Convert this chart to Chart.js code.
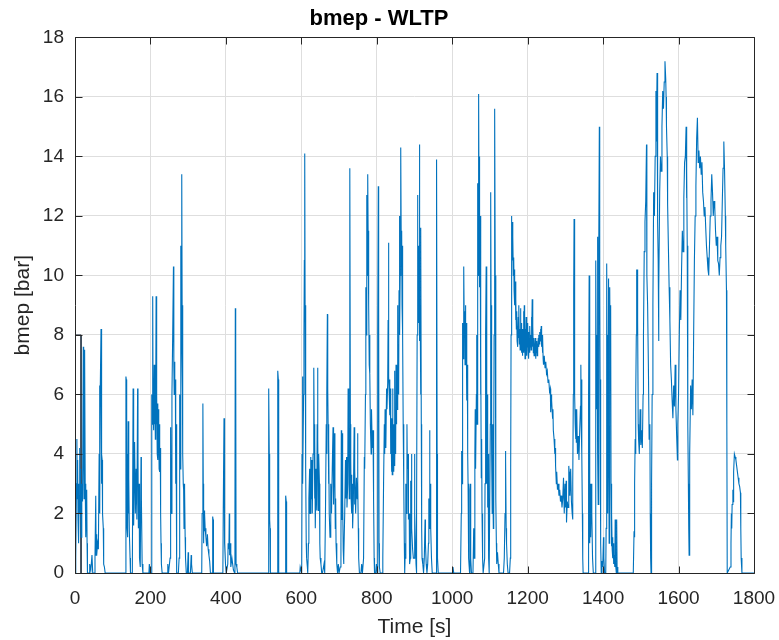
<!DOCTYPE html>
<html>
<head>
<meta charset="utf-8">
<title>bmep - WLTP</title>
<script src="https://cdn.jsdelivr.net/npm/chart.js@4.4.1/dist/chart.umd.min.js"></script>
<style>
  html, body { margin: 0; padding: 0; background: #fff; }
  #wrap { width: 779px; height: 640px; }
</style>
</head>
<body>
<div id="wrap"><canvas id="bmep-chart" width="779" height="640"></canvas></div>
<script>
// time [s] and bmep [bar], segment by segment
const timeS = [
  0,2,4,5,6,7,8,9,10,11, 12,13,14,15,16,18,20,22,23,24, 25,26,27,28,29,31,32,33,
  38,39,42,45,47,52,53,55,56,57, 58,60,62,64,65,66,67,69,70,71, 72,73,75,76,78,80,
  134,135,136,137,138,139,140,141,142,143, 144,146,147,152,154,155,156,158,160,162, 164,166,167,168,170,171,173,175,176,178, 180,
  196,197,199,202,203,204,205,206,207,208, 209,210,211,212,213,214,215,216,217,218, 219,220,221,222,223,224,225,226,227,228, 229,231,
  244,246,248,252,253,254,255,257,259,261, 262,263,264,265,266,267,268,269,270,274, 276,277,278,279,280,281,282,283,284,285, 286,287,288,289,290,291,292,293,295,298, 300,301,306,308,309,311,
  336,337,339,340,341,342,343,344,345,347, 349,351,353,355,357,359,364,365,366,367, 392,393,395,396,397,399,401,405,406,408, 409,410,412,413,416,418,420,423,424,425, 426,427,429,431,
  512,513,514,515,516,517,518,536,537,538, 539,540,557,558,559,560,561,596,597,599, 601,602,603,604,606,607,608,609,610,611, 612,613,614,616,
  617,619,620,622,623,625,626,628,629,631, 633,634,635,636,637,639,641,642,643,644, 645,646,648,649,650,652,654,656,660,662, 664,666,667,668,669,670,671,672,673,674,
  676,678,680,682,684,685,686,688,689,690, 691,692,694,696,698,700,703,705,706,707, 708,709,710,711,712,713,715,717,718,720, 721,723,724,725,726,727,728,729,730,731, 732,733,734,735,736,738,740,741,742,744, 746,748,749,750,751,752,754,
  758,760,762,765,767,768,770,771,772,773, 774,775,776,777,778,779,780,781,782,783, 785,786,788,790,791,792,793,794,797,799, 801,802,803,804,805,806,807,809,
  814,816,818,820,821,822,824,826,827,829, 830,831,832,833,834,835,836,837,838,839, 840,841,842,843,844,845,846,847,848,849, 850,851,852,853,854,855,856,857,858,859, 860,861,862,863,864,865,866,867,868,869, 870,871,872,873,874,
  875,877,878,880,881,883,884,886,887,889, 890,891,892,893,895,897,899,900,901,903, 904,905,906,907,908,909,910,911,912,913, 914,915,916,917,918,919,920,922,924,926, 928,929,931,933,935,937,938,939,940,941, 942,943,945,947,957,958,959,960,961,963,
  1000,1002,1004,1022,1024,1025,1026,1027,1028,1029, 1030,1031,1032,1033,1034,1035,1036,1037,1038,1039, 1040,1041,1042,1043,1044,1046,1047,1048,1049,1051,
  1055,1057,1058,1060,1061,1062,1064,1065,1066,1067, 1068,1069,1070,1071,1072,1073,1074,1075,1076,1077, 1078,1079,1080,1081,1082,1084,1086,1087,1088,1089, 1090,1091,1092,1093,1094,1095,1096,1097,1098,1100, 1101,1102,1103,1104,1105,1106,1107,1108,1109,1110, 1111,1112,1113,1114,1115,1116,1117,1118,1120,1122, 1124,1136,1138,1140,1141,1142,1143,1144,1146,1148,
  1152,1154,
  1155,1156,1157,1158,1159,1160,1161,1162,1163,1164,
  1165,1166,1167,1168,1169,1170,1171,1172,1173,1174,
  1175,1176,1177,1178,1179,1180,1181,1182,1183,1184,
  1185,1186,1187,1188,1189,1190,1191,1192,1193,1194,
  1195,1196,1197,1198,1199,1200,1201,1202,1203,1204,
  1205,1206,1207,1208,1209,1210,1211,1212,1213,1214,
  1215,1216,1217,1218,1219,1220,1221,1222,1223,1224,
  1225,1226,1227,1228,1229,1230,1231,1232,1233,1234,
  1235,1236,1237,1238,1239,1240,1241,1242,
  1244,1246,1248,1250,1252,1254,1256,1258,1260,1261, 1262,1263,1264,1266,1267,1268,1270,1272,1273,1274, 1276,1277,1279,1281,1283,1285,1287,1289,1291,1293, 1295,1297,1299,1300,1302,1303,1305,1307,1309,1310, 1312,1314,1316,1318,1319,1320,1321,1322,1323,1324, 1325,1326,1327,1328,1329,1330,1332,1334,1336,1338, 1340,1341,1342,1343,1344,1345,1346,1347,
  1360,1361,1362,1363,1364,1365,1366,1367,1369,1370, 1372,1374,1379,1380,1381,1382,1383,1384,1385,1386, 1387,1388,1389,1390,1391,1392,1393,1394,1395,1397, 1399,1401,1402,1404,1407,1408,1409,1410,1411,1412, 1413,1414,1415,1416,1417,1418,1419,1420,1421,1422, 1423,1424,1425,1426,1427,1428,1429,1431,1432,1433, 1435,1436,1437,1439,
  1480,1482,1483,1484,1485,1486,1487,1488,1489,1490, 1491,1492,1493,1494,1496,1498,1500,1502,1504,1506, 1507,1509,1511,1513,1515,1516,1518,1520,1522,1524, 1525,1526,1527,1528,1529,1530,1532,1534,1536,1538, 1540,1541,1543,1544,1545,1546,1547,1548,1550,1552, 1554,1556,1558,1560,1562,1564,1566,1567,1568,1570, 1571,
  1573,1575,1577,1579,1581,1583,1585,1587,1589,1591, 1593,1595,1597,1598,1600,1602,1604,1606,1608,1610, 1612,1614,1616,1618,1620,1621,1622,1623,1624,1625, 1626,1627,1628,1629,1630,1632,1634,1636,1638,1640, 1642,1644,1646,1648,1650,1652,1654,1656,1658,1660, 1662,1664,1666,1668,1670,1672,1674,1676,1678,1680, 1682,1684,1686,1688,1690,1692,1694,1696,1698,1700, 1702,1704,1706,1708,1710,1712,1714,1716,1718,1720, 1722,1724,1725,1727,1728,1729,
  1737,1739,1740,1741,1742,1744,1745,1746,1748,1750, 1752,1754,1756,1758,1760,1762,1764,1765,1766,1768, 1800
];

const bmepBar = [
  0,0.5,3.0,4.5,2.5,3.8,1.8,3.0,1.0,2.6, 4.2,2.0,3.5,2.7,1.2,3.0,2.4,7.6,4.0,2.5, 6.5,7.5,3.0,2.8,1.2,2.8,1.0,0,
  0,0.3,0.1,0.6,0,0,0.5,2.6,0.6,1.3, 0.6,1.0,0.8,4.0,6.3,2.0,6.2,8.2,3.0,4.0, 3.8,2.0,1.5,0.3,0.2,0,
  0,6.6,6.5,3.0,1.5,4.0,1.2,5.1,2.0,3.2, 1.4,0.5,0,0,6.2,3.0,1.6,4.4,2.0,3.5, 1.8,6.2,4.0,1.5,3.0,0.5,0.2,3.9,2.5,0.3, 0,
  0,0.3,0,0,2.0,6.0,5.0,9.3,5.5,6.5, 4.8,7.0,5.0,6.2,4.5,5.8,9.3,5.0,6.0,4.0, 5.7,3.8,5.5,4.6,3.5,5.0,3.4,4.2,2.0,1.0, 0.3,0,
  0,0.3,0,0.5,3.3,4.9,2.0,6.0,8.0,10.3, 7.0,6.0,7.1,6.0,6.5,3.0,5.0,1.0,0,0, 0.5,4.0,6.0,3.5,11.0,6.0,8.0,13.4,9.0,7.9, 4.0,3.0,2.8,1.5,3.0,2.8,1.2,0.5,0,0, 0.7,0,0,0.6,0.3,0,
  0,2.0,5.7,3.0,1.0,2.1,1.4,2.0,1.5,1.2, 0.9,1.3,0.8,0.6,0.4,0,0,1.9,1.8,0, 0,2.0,5.2,5.0,1.0,0.3,0,0.3,1.0,0.8, 2.0,0.6,1.0,0.2,0.5,0.3,0.1,0,2.0,8.9, 7.5,0.3,0.2,0,
  0,1.0,6.2,4.0,1.8,1.5,0,0,2.5,6.8, 6.5,0,0,1.0,2.6,2.4,0,0,0.2,0.2, 0,4.0,6.6,3.0,6.0,8.0,10.5,14.1,9.0,5.0, 3.5,1.0,0.5,0.2,
  0,1.0,2.5,3.5,2.0,3.9,2.5,3.8,2.0,4.0, 6.9,5.0,2.5,4.5,1.5,3.5,2.1,5.0,6.9,4.5, 2.1,4.0,3.0,1.0,0.5,0.3,0,0,0.3,0, 2.0,5.0,4.0,6.0,8.7,6.2,5.0,3.0,4.5,2.0,
  1.2,3.0,2.0,3.5,4.9,3.0,2.3,4.7,3.0,1.5, 2.5,1.0,0.3,0,0.3,0,0.2,1.0,4.8,3.5, 1.8,4.7,2.5,0.8,0.3,0.5,2.0,3.8,2.5,3.9, 2.2,3.0,6.2,4.0,4.9,2.5,5.0,13.6,5.0,3.8, 2.5,3.3,2.0,3.0,1.5,2.5,4.9,2.3,3.5,2.0, 3.2,2.5,4.7,3.0,1.5,0.5,0,
  0,0.3,0,0.5,3.9,3.5,6.0,9.6,8.0,11.0, 12.7,10.0,13.4,11.5,10.7,9.0,7.0,8.0,6.7,5.0, 4.0,5.5,4.2,4.8,3.8,2.5,0.5,0,0,0.3, 0,2.0,8.0,13.0,9.0,1.0,0.2,0,
  0,0.5,3.0,5.0,4.0,5.5,4.2,6.2,5.5,6.4, 8.5,11.1,6.6,6.0,6.5,5.3,6.2,4.0,4.6,3.4, 5.2,3.3,6.2,4.0,5.0,3.4,4.5,6.8,3.6,5.4, 4.0,7.0,5.0,7.0,5.5,9.0,5.8,7.5,6.0,9.5, 12.0,8.0,10.0,13.0,14.3,10.5,11.5,9.0,11.0,8.0, 5.0,4.2,3.0,1.0,0,
  0.5,3.0,2.0,5.0,3.5,4.0,1.8,2.0,0.3,0.5, 3.1,2.5,4.0,1.5,0.8,0.5,0.5,4.0,2.0,0.8, 0.3,0,2.0,8.0,12.7,9.0,11.0,8.4,10.0,14.4, 7.8,9.0,6.0,11.6,5.0,1.5,0.5,0.3,0,0.5, 1.8,1.0,0.3,0,0.3,1.0,2.5,1.5,4.8,2.0, 3.0,1.5,0.5,0,0,3.0,13.9,4.0,0.5,0,
  0,0.2,0,0,2.0,4.1,3.0,7.0,8.4,7.2, 9.5,10.3,8.0,8.8,7.0,9.0,7.5,8.4,6.8,5.8, 7.0,4.0,3.0,1.5,0.5,0,2.8,3.0,0.5,0,
  0,1.5,0.5,4.0,5.5,3.5,6.0,8.0,5.0,11.0, 13.1,10.0,16.1,12.5,14.0,9.6,12.0,6.0,7.5,3.2, 4.5,2.0,1.0,0.5,0,0,0.5,3.0,6.0,8.0, 10.3,6.0,3.0,6.0,2.2,4.0,1.8,0.5,0,0, 5.0,12.8,9.0,7.0,4.0,2.0,5.0,3.0,1.5,4.0, 8.0,12.0,15.6,10.0,4.5,2.5,1.0,0.3,0.7,0.3, 0,0,0.5,2.0,4.1,3.8,1.5,1.0,0.3,0,
  0,0.5,
  3.5,8.0,12.0,11.5,11.8,10.5,11.3,10.0,10.6,9.5,
  10.2,9.0,9.8,8.5,9.2,8.2,8.8,7.8,8.3,7.6,
  8.6,7.9,9.0,7.7,8.2,7.5,8.9,7.8,8.4,7.4,
  8.0,7.3,8.2,7.6,8.8,7.4,9.0,7.8,7.2,8.2,
  7.5,8.6,7.3,8.0,7.6,8.4,7.5,8.1,7.2,7.9,
  7.4,8.3,7.6,8.0,7.5,8.6,7.8,9.2,7.6,8.3,
  7.4,7.9,7.3,7.7,7.5,7.9,7.2,7.6,7.4,7.8,
  7.3,7.7,7.5,7.9,7.6,8.0,7.7,8.1,7.8,8.2,
  7.9,8.3,7.6,8.0,7.4,8.0,7.2,7.0,
  7.3,6.9,7.1,6.7,6.8,6.4,6.5,6.1,6.2,5.4, 6.0,5.6,5.8,5.2,5.5,4.8,4.5,4.0,4.2,3.6, 3.0,3.4,2.8,3.0,2.6,2.8,2.4,2.6,2.2,2.5, 3.2,2.0,3.0,2.2,3.1,1.7,2.4,2.2,3.6,3.4, 2.6,3.5,2.4,2.0,1.8,3.0,6.0,9.5,11.9,9.5, 6.0,5.0,4.5,5.5,4.4,5.5,4.0,4.6,3.8,4.8, 5.6,7.0,5.0,6.5,4.0,2.0,0.5,0,
  0,2.0,6.0,10.0,4.0,1.0,3.0,1.2,3.0,2.0, 0.5,0,0,3.0,10.5,6.0,5.5,8.0,11.3,4.0, 2.3,6.0,11.0,15.0,10.0,6.5,3.0,1.0,0,0.4, 0.2,1.2,0.5,0,0,1.5,5.0,10.4,6.0,2.0, 8.0,9.9,5.0,1.0,4.0,9.6,7.0,9.0,3.0,0.9, 2.0,0.8,1.2,0.5,1.0,0.3,0.6,0.2,1.8,0.3, 0,1.8,0.2,0,
  0,1.4,1.2,3.0,4.5,4.0,6.0,8.0,10.2,8.1, 10.2,8.5,5.0,4.5,4.0,5.5,4.3,4.8,4.2,6.0, 8.0,10.8,11.8,12.5,14.4,10.0,9.0,7.0,4.5,5.0, 2.0,0.5,0,0.5,3.0,6.0,9.0,12.8,12.0,14.0, 16.2,14.5,16.8,13.2,11.8,10.5,7.8,9.5,12.8,14.0, 13.5,15.0,16.2,15.6,16.5,17.2,16.6,16.0,15.0,14.0, 12.4,
  11.0,9.6,8.5,7.0,6.5,5.8,5.2,6.3,5.6,7.0, 5.5,4.6,3.8,5.0,6.0,8.0,9.5,8.5,10.2,11.5, 10.8,12.6,13.8,14.0,15.0,12.6,13.5,11.0,8.0,5.0, 3.0,1.5,0.6,2.0,4.0,6.3,5.5,6.5,5.3,8.0, 10.5,12.0,13.0,14.6,15.3,13.8,14.2,13.6,14.0,13.4, 13.8,12.8,12.5,12.0,12.3,11.6,11.0,10.6,10.2,10.0, 11.0,12.0,12.5,13.4,12.8,12.0,12.5,12.3,11.5,11.0, 11.3,10.5,10.4,10.0,10.6,11.0,11.3,12.5,13.6,14.5, 13.5,12.0,11.0,9.5,5.0,0,
  0.2,1.0,2.0,1.5,2.3,2.8,2.4,3.4,4.0,3.9, 3.8,3.6,3.4,3.2,3.0,2.9,2.7,1.5,0.5,0, 0
];

// the dark step drawn at the start of the trace
const startTimeS = [0, 16, 16];
const startBar = [8, 8, 0];

const xTicks = [0, 200, 400, 600, 800, 1000, 1200, 1400, 1600, 1800];
const yTicks = [0, 2, 4, 6, 8, 10, 12, 14, 16, 18];

if (timeS.length !== bmepBar.length) {
    console.error('length mismatch', timeS.length, bmepBar.length);
}

const fontFamily = "'Liberation Sans', Arial, Helvetica, sans-serif";
const axisColor = '#262626';
const gridColor = '#dedede';

// box around the axes with inward ticks on all four sides, like matlab's "box on"
const axesBox = {
    id: 'axesBox',
    afterDatasetsDraw(chart) {
        const { ctx, chartArea: a, scales: { x, y } } = chart;
        const l = Math.round(a.left) + 0.5, r = Math.round(a.right) + 0.5;
        const t = Math.round(a.top) + 0.5, b = Math.round(a.bottom) + 0.5;
        const len = 7;
        ctx.save();
        ctx.strokeStyle = axisColor;
        ctx.lineWidth = 1;
        ctx.beginPath();
        ctx.rect(l, t, r - l, b - t);
        xTicks.forEach(v => {
            const px = Math.round(x.getPixelForValue(v)) + 0.5;
            ctx.moveTo(px, b); ctx.lineTo(px, b - len);
            ctx.moveTo(px, t); ctx.lineTo(px, t + len);
        });
        yTicks.forEach(v => {
            const py = Math.round(y.getPixelForValue(v)) + 0.5;
            ctx.moveTo(l, py); ctx.lineTo(l + len, py);
            ctx.moveTo(r, py); ctx.lineTo(r - len, py);
        });
        ctx.stroke();
        ctx.restore();
    }
};

const ctx = document.getElementById('bmep-chart').getContext('2d');
new Chart(ctx, {
    type: 'line',
    data: {
        datasets: [{
            label: 'bmep',
            data: timeS.map((t, i) => ({ x: t, y: bmepBar[i] })),
            borderColor: '#0072BD',
            borderWidth: 1.1,
            pointRadius: 0,
            tension: 0,
            fill: false
        }, {
            label: 'start',
            data: startTimeS.map((t, i) => ({ x: t, y: startBar[i] })),
            borderColor: '#2b3a4a',
            borderWidth: 1,
            pointRadius: 0,
            tension: 0,
            fill: false
        }]
    },
    options: {
        responsive: false,
        animation: false,
        devicePixelRatio: 1,
        layout: { padding: { left: 4, right: 25, top: 0, bottom: 0 } },
        plugins: {
            legend: { display: false },
            tooltip: { enabled: false },
            title: {
                display: true,
                text: 'bmep - WLTP',
                color: '#000',
                font: { family: fontFamily, size: 22, weight: 'bold' },
                padding: { top: 6, bottom: 5 }
            }
        },
        scales: {
            x: {
                type: 'linear',
                min: 0,
                max: 1800,
                afterBuildTicks: scale => { scale.ticks = xTicks.map(v => ({ value: v })); },
                afterFit: scale => {
                    scale.height = 67;
                    scale.paddingLeft = 0;
                    scale.paddingRight = 0;
                },
                ticks: {
                    autoSkip: false,
                    maxRotation: 0,
                    padding: 14,
                    color: axisColor,
                    font: { family: fontFamily, size: 19 },
                    callback: v => String(v)
                },
                grid: { color: gridColor, drawTicks: false },
                border: { display: false },
                title: {
                    display: true,
                    text: 'Time [s]',
                    color: axisColor,
                    font: { family: fontFamily, size: 21 },
                    padding: { top: 0, bottom: 0 }
                }
            },
            y: {
                type: 'linear',
                min: 0,
                max: 18,
                afterBuildTicks: scale => { scale.ticks = yTicks.map(v => ({ value: v })); },
                afterFit: scale => {
                    scale.width = 71;
                    scale.paddingTop = 0;
                    scale.paddingBottom = 0;
                },
                ticks: {
                    padding: 11,
                    color: axisColor,
                    font: { family: fontFamily, size: 19 },
                    callback: v => String(v)
                },
                grid: { color: gridColor, drawTicks: false },
                border: { display: false },
                title: {
                    display: true,
                    text: 'bmep [bar]',
                    color: axisColor,
                    font: { family: fontFamily, size: 21 },
                    padding: { top: 7, bottom: 0 }
                }
            }
        }
    },
    plugins: [axesBox]
});
</script>
</body>
</html>
